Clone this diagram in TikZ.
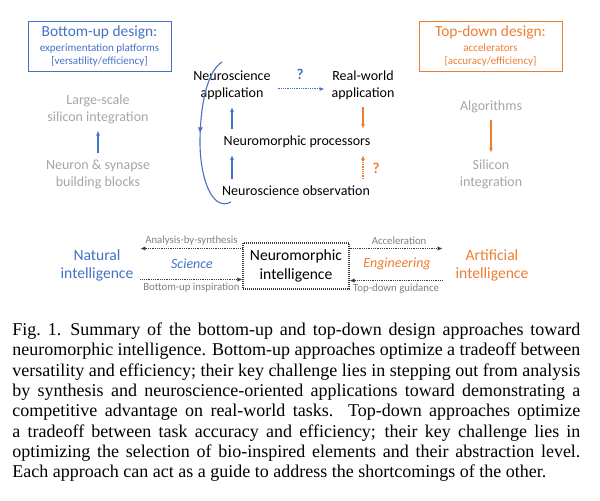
\documentclass[tikz,border=0pt]{standalone}
\usepackage{fontspec}
\setmainfont{Liberation Serif}
\newfontfamily\diagfont{Carlito}
\usepackage{xcolor}
\usepackage{tikz}
\usetikzlibrary{arrows.meta,positioning,decorations.markings}

\definecolor{nblue}{HTML}{4472C4}
\definecolor{norange}{HTML}{ED7D31}
\definecolor{ngray}{HTML}{A5A5A5}
\definecolor{lgray}{HTML}{808080}
\definecolor{dgray}{HTML}{3A3A3A}

\begin{document}
\begin{tikzpicture}[
      x=0.5pt,y=-0.5pt,
      font=\diagfont\fontsize{7}{8.5}\selectfont,
      designbox/.style={
         draw,
         line width=0.45pt,
         minimum width=71.5pt,
         minimum height=25pt,
         inner sep=1pt,
         align=center},
      grayitem/.style={text=ngray, align=center},
      blackitem/.style={text=black, align=center},
      bigitem/.style={align=center, font=\diagfont\fontsize{7.8}{8.75}\selectfont},
      bluearrow/.style={-{Latex[length=2.5pt,width=2pt]}, nblue, line width=0.55pt},
      orangearrow/.style={-{Latex[length=2.5pt,width=2pt]}, norange, line width=0.55pt},
      dotarrow/.style={-{Latex[length=2.5pt,width=2.2pt]}, dgray, line width=0.7pt,
         dash pattern=on 0.4pt off 0.5pt},
      edgelabel/.style={text=lgray, inner sep=1.5pt,
         font=\diagfont\fontsize{5.4}{6}\selectfont},
      qmark/.style={font=\diagfont\bfseries\fontsize{7.5}{8}\selectfont}
      ]
\useasboundingbox (0,0) rectangle (600,501);

% design boxes
\node[designbox, draw=nblue, text=nblue] (bu) at (99.5,46)
   {{\fontsize{7.7}{9}\selectfont Bottom-up design:}\\[-1pt]
    {\fontsize{5.5}{6.5}\selectfont experimentation platforms}\\[-2pt]
    {\fontsize{5.5}{6.5}\selectfont [versatility/efficiency]}};
\node[designbox, draw=norange, text=norange] (td) at (490.5,46)
   {{\fontsize{7.7}{9}\selectfont Top-down design:}\\[-1pt]
    {\fontsize{5.5}{6.5}\selectfont accelerators}\\[-2pt]
    {\fontsize{5.5}{6.5}\selectfont [accuracy/efficiency]}};

% side columns
\node[grayitem] (large)  at (98,109)   {Large-scale\\silicon integration};
\node[grayitem] (blocks) at (98,174.5) {Neuron \& synapse\\building blocks};
\node[grayitem] (algo)   at (491,107)  {Algorithms};
\node[grayitem] (silic)  at (491,174.5) {Silicon\\integration};

\draw[bluearrow]   (blocks) -- (large);
\draw[orangearrow] (algo) -- (silic);

% middle loop
\node[blackitem] (app)  at (232,85.5) {Neuroscience\\application};
\node[blackitem] (rw)   at (363,85.5) {Real-world\\application};
\node[blackitem] (proc) at (297,142)  {Neuromorphic processors};
\node[blackitem] (obs)  at (296,191)  {Neuroscience observation};

\foreach \s/\t in {% start node/end node
      obs/proc,proc/app}
       \draw[bluearrow] (\s.north -| app.south) -- (\t.south -| app.south);

\draw[orangearrow] (rw.south) -- (proc.north -| rw.south);
\draw[orangearrow, dash pattern=on 0.4pt off 0.5pt] (obs.north -| rw.south) -- (proc.south -| rw.south);
\draw[bluearrow, line width=0.5pt, dash pattern=on 0.4pt off 0.5pt]
   ([yshift=-1.75pt]app.east) -- ([yshift=-1.75pt]rw.west);

\node[qmark, text=nblue]   (q1) at (300,74)  {?};
\node[qmark, text=norange] (q2) at (376,168) {?};

\coordinate (lp0) at (222,62);
\coordinate (lp1) at (200,142);
\coordinate (lp2) at (231,202);
\draw[nblue, line width=0.55pt, postaction={decorate},
      decoration={markings, mark=at position 0.47 with {\arrow{Latex[length=3pt,width=2.6pt]}}}]
   (lp0) .. controls (206,72) and (200,110) .. (lp1)
         .. controls (200,178) and (212,212) .. (lp2);

% bottom row
\node[bigitem, text=nblue]   (natural) at (97,265.5)  {Natural\\intelligence};
\node[bigitem, text=norange] (artif)   at (492,265.5) {Artificial\\intelligence};
\node[bigitem, draw=dgray, line width=0.6pt, dash pattern=on 0.4pt off 0.6pt,
      minimum width=53pt, minimum height=22pt,
      font=\diagfont\fontsize{7.8}{9.5}\selectfont] (neuro) at (296,266)
   {Neuromorphic\\intelligence};

\coordinate (nlt) at ([yshift=-3pt]neuro.north west);
\coordinate (nlb) at ([yshift=5pt]neuro.south west);
\coordinate (nrt) at ([yshift=-3pt]neuro.north east);
\coordinate (nrb) at ([yshift=4.5pt]neuro.south east);

\draw[dotarrow] (nlt) -- node[edgelabel, above] {Analysis-by-synthesis} (nlt -| natural.east);
\draw[dotarrow] (nlb -| natural.east) -- node[edgelabel, below] {Bottom-up inspiration} (nlb);
\draw[dotarrow, shorten >=3pt] (nrt) -- node[edgelabel, above] {Acceleration} (nrt -| artif.west);
\draw[dotarrow] ([xshift=-3pt]nrb -| artif.west) -- node[edgelabel, below] {Top-down guidance} (nrb);

\node[text=nblue,   font=\diagfont\itshape\fontsize{7}{8}\selectfont] (sci) at (192,264) {Science};
\node[text=norange, font=\diagfont\itshape\fontsize{7}{8}\selectfont] (eng) at (397,264) {Engineering};

% caption
\node[anchor=north west, inner sep=0pt, text width=284pt, align=justify,
      font=\rmfamily\fontsize{9}{10.15}\selectfont] (caption) at (12,322.5)
   {Fig.~1.\enspace Summary of the bottom-up and top-down design approaches toward\linebreak
    neuromorphic intelligence. Bottom-up approaches optimize a tradeoff between\linebreak
    versatility and efficiency; their key challenge lies in stepping out from analysis\linebreak
    by synthesis and neuroscience-oriented applications toward demonstrating a\linebreak
    competitive advantage on real-world tasks. Top-down approaches optimize\linebreak
    a tradeoff between task accuracy and efficiency; their key challenge lies in\linebreak
    optimizing the selection of bio-inspired elements and their abstraction level.\linebreak
    Each approach can act as a guide to address the shortcomings of the other.};

\end{tikzpicture}
\end{document}
